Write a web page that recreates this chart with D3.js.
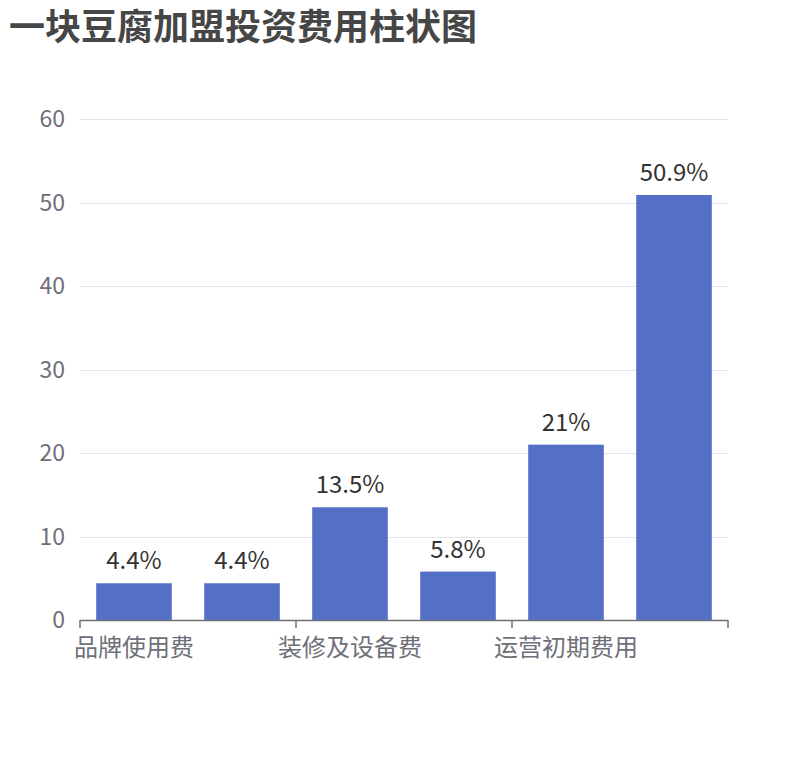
<!DOCTYPE html>
<html>
<head>
<meta charset="utf-8">
<script src="https://cdn.jsdelivr.net/npm/d3@7/dist/d3.min.js"></script>
<style>
  body { margin: 0; background: #fff; }
  text { font-family: "Noto Sans CJK SC", "Noto Sans", sans-serif; }
</style>
</head>
<body>
<div id="chart"></div>
<script>
// data (every other x label is hidden by the axis interval)
const categories = ["品牌使用费", "加盟保证金", "装修及设备费", "首批原料费", "运营初期费用", "店铺租金"]
const values = [4.4, 4.4, 13.5, 5.8, 21, 50.9]
const yTicks = [0, 10, 20, 30, 40, 50, 60]
const titleText = "一块豆腐加盟投资费用柱状图"

const width = 810
const height = 760
const margin = { top: 119, right: 82, bottom: 140, left: 80 }

const svg = d3.select("#chart")
  .append("svg")
    .attr("width", width)
    .attr("height", height)

svg.append("text")
  .attr("x", 9)
  .attr("y", 40)
  .attr("fill", "#464646")
  .style("font-size", "36px")
  .style("font-weight", "bold")
  .text(titleText)

const x = d3.scaleBand()
  .domain(categories)
  .range([margin.left, width - margin.right])
  .paddingInner(0.3)
  .paddingOuter(0.15)

// band edges without padding, for ticks on category boundaries
const step = (width - margin.right - margin.left) / categories.length

const y = d3.scaleLinear()
  .domain([0, 60])
  .range([height - margin.bottom, margin.top])

// grid
svg.append("g")
  .selectAll("line")
  .data(yTicks.slice(1))
  .join("line")
    .attr("x1", margin.left)
    .attr("x2", width - margin.right)
    .attr("y1", d => Math.round(y(d)) + 0.5)
    .attr("y2", d => Math.round(y(d)) + 0.5)
    .attr("stroke", "#E0E6F1")
    .attr("stroke-width", 1.2)

// y labels
svg.append("g")
  .selectAll("text")
  .data(yTicks)
  .join("text")
    .attr("x", 65)
    .attr("y", d => y(d))
    .attr("dy", "0.35em")
    .attr("text-anchor", "end")
    .attr("fill", "#6E7079")
    .style("font-size", "23px")
    .text(d => d)

// bars
svg.append("g")
  .selectAll("rect")
  .data(values)
  .join("rect")
    .attr("x", (d, i) => x(categories[i]))
    .attr("width", x.bandwidth())
    .attr("y", d => y(d))
    .attr("height", d => y(0) - y(d))
    .attr("fill", "#5470C6")

// value labels
svg.append("g")
  .selectAll("text")
  .data(values)
  .join("text")
    .attr("x", (d, i) => x(categories[i]) + x.bandwidth() / 2)
    .attr("y", d => y(d) - 14)
    .attr("text-anchor", "middle")
    .attr("fill", "#333")
    .style("font-size", "24px")
    .text(d => d + "%")

// x axis line + ticks every two categories
const ax = svg.append("g")
ax.append("line")
  .attr("x1", margin.left)
  .attr("x2", width - margin.right)
  .attr("y1", y(0) + 0.5)
  .attr("y2", y(0) + 0.5)
  .attr("stroke", "#6E7079")
  .attr("stroke-width", 1.5)

const tickPos = d3.range(0, categories.length + 1, 2)
ax.selectAll("line.tick")
  .data(tickPos)
  .join("line")
    .attr("class", "tick")
    .attr("x1", d => margin.left + d * step)
    .attr("x2", d => margin.left + d * step)
    .attr("y1", y(0))
    .attr("y2", y(0) + 8)
    .attr("stroke", "#6E7079")
    .attr("stroke-width", 1.5)

ax.selectAll("text")
  .data(categories.filter((d, i) => i % 2 === 0))
  .join("text")
    .attr("x", d => x(d) + x.bandwidth() / 2)
    .attr("y", y(0) + 36)
    .attr("text-anchor", "middle")
    .attr("fill", "#6E7079")
    .style("font-size", "24px")
    .text(d => d)
</script>
</body>
</html>
